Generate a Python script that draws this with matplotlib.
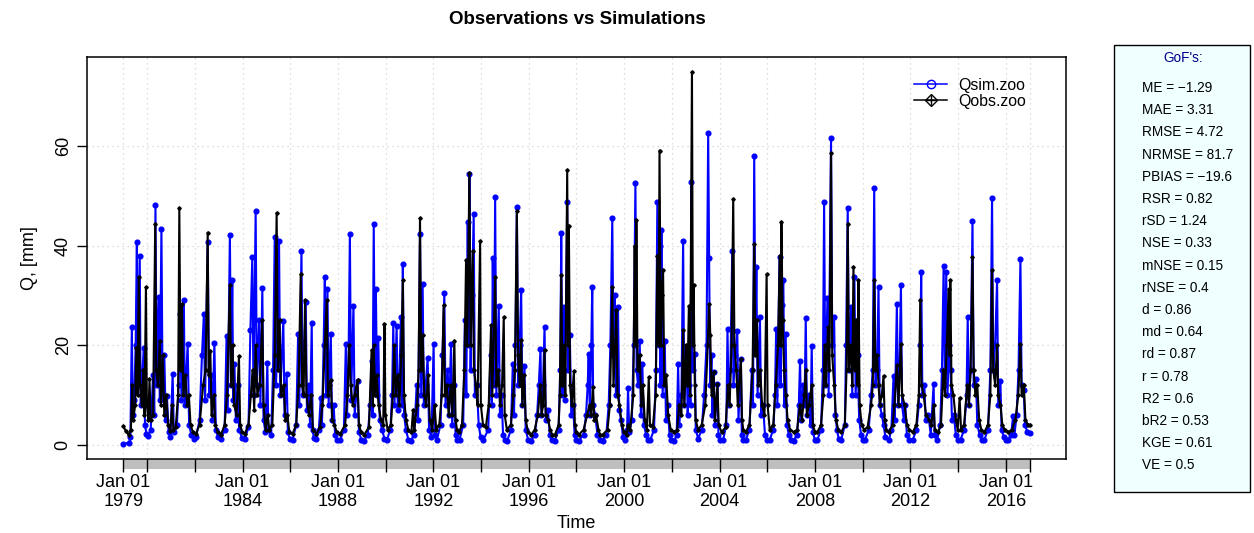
import matplotlib
matplotlib.use("Agg")
import matplotlib.pyplot as plt
from matplotlib.lines import Line2D
from matplotlib.legend_handler import HandlerTuple
from matplotlib.patches import Rectangle

plt.rcParams['font.family'] = ['Liberation Sans', 'DejaVu Sans']

# simulated discharge: (decimal year, Q [mm])
qsim = [
    (1979.00, 0.1), (1979.25, 0.4), (1979.30, 1.5), (1979.36, 23.6), (1979.40, 6), (1979.46, 9),
    (1979.52, 20), (1979.57, 40.7), (1979.61, 12), (1979.69, 38), (1979.73, 8), (1979.80, 14),
    (1979.86, 19.5), (1979.91, 4), (1979.97, 2.2),
    (1980.05, 1.8), (1980.15, 3), (1980.25, 14), (1980.30, 6), (1980.35, 48.1), (1980.40, 12),
    (1980.48, 29.6), (1980.53, 9), (1980.60, 43.4), (1980.65, 10), (1980.72, 18), (1980.78, 5),
    (1980.83, 9.8), (1980.90, 2.5), (1980.98, 1.6),
    (1981.07, 14.1), (1981.12, 2.5), (1981.25, 4), (1981.32, 12), (1981.39, 26.3), (1981.44, 9),
    (1981.54, 29), (1981.58, 8), (1981.70, 20.2), (1981.76, 4), (1981.85, 2), (1981.95, 1.2),
    (1982.05, 1.5), (1982.20, 5), (1982.30, 18), (1982.38, 26.3), (1982.43, 9), (1982.54, 40.7),
    (1982.60, 10), (1982.68, 14), (1982.74, 5), (1982.82, 20.5), (1982.88, 3), (1982.97, 1.6),
    (1983.10, 1.2), (1983.25, 3), (1983.33, 21.9), (1983.38, 7), (1983.47, 42.2), (1983.52, 12),
    (1983.57, 33), (1983.61, 9), (1983.66, 16.2), (1983.72, 5), (1983.80, 12), (1983.86, 3),
    (1983.97, 1.4),
    (1984.10, 1.2), (1984.25, 3.5), (1984.33, 23), (1984.41, 37.7), (1984.46, 10), (1984.55, 46.9),
    (1984.60, 12), (1984.70, 25), (1984.75, 8), (1984.83, 31.5), (1984.88, 5), (1984.96, 2.5),
    (1985.04, 16.5), (1985.08, 3), (1985.20, 2), (1985.28, 15), (1985.35, 41.8), (1985.40, 12),
    (1985.47, 20), (1985.53, 41), (1985.58, 10), (1985.71, 24.9), (1985.76, 6), (1985.85, 14.1),
    (1985.90, 2.5), (1985.98, 1.2),
    (1986.10, 1), (1986.25, 4), (1986.33, 22.2), (1986.38, 8), (1986.47, 38.9), (1986.52, 10),
    (1986.65, 28.6), (1986.70, 7), (1986.78, 12), (1986.83, 4), (1986.90, 24.4), (1986.94, 3),
    (1986.99, 1.3),
    (1987.10, 1.2), (1987.20, 3), (1987.28, 9.4), (1987.33, 4), (1987.40, 20), (1987.45, 33.7),
    (1987.50, 10), (1987.56, 31.3), (1987.61, 8), (1987.70, 22.2), (1987.75, 5), (1987.82, 8),
    (1987.88, 2), (1987.98, 1),
    (1988.10, 1), (1988.25, 3), (1988.33, 20.2), (1988.38, 6), (1988.44, 15), (1988.50, 42.4),
    (1988.55, 9), (1988.65, 27.9), (1988.70, 6), (1988.82, 12.8), (1988.88, 2.5), (1988.98, 1),
    (1989.10, 0.8), (1989.25, 2), (1989.35, 8), (1989.41, 16.8), (1989.45, 6), (1989.50, 44.3),
    (1989.55, 12), (1989.59, 31.3), (1989.64, 10), (1989.69, 21.5), (1989.75, 5), (1989.85, 3),
    (1989.95, 1.2),
    (1990.05, 1), (1990.20, 3), (1990.27, 10), (1990.32, 24.4), (1990.37, 8), (1990.46, 23.9),
    (1990.51, 7), (1990.58, 14), (1990.64, 25.6), (1990.68, 8), (1990.72, 36.2), (1990.77, 6),
    (1990.85, 3), (1990.95, 1),
    (1991.05, 0.8), (1991.20, 2), (1991.30, 12), (1991.36, 5), (1991.44, 42.4), (1991.49, 10),
    (1991.55, 32.3), (1991.60, 8), (1991.68, 12), (1991.76, 17.5), (1991.82, 3), (1991.92, 1.5),
    (1992.01, 20.2), (1992.05, 2),
    (1992.15, 1), (1992.30, 4), (1992.38, 18), (1992.46, 30.4), (1992.51, 8), (1992.60, 15),
    (1992.66, 6), (1992.74, 20.2), (1992.79, 4), (1992.88, 12), (1992.93, 2), (1992.99, 1),
    (1993.10, 1), (1993.25, 4), (1993.32, 25), (1993.38, 10), (1993.44, 44.8), (1993.48, 20),
    (1993.51, 54.4), (1993.56, 15), (1993.62, 30), (1993.69, 46.3), (1993.74, 10), (1993.82, 12),
    (1993.90, 4), (1993.98, 1.5),
    (1994.10, 1), (1994.30, 3), (1994.40, 18), (1994.45, 8), (1994.49, 37.4), (1994.54, 12),
    (1994.59, 49.7), (1994.64, 10), (1994.74, 27.9), (1994.79, 6), (1994.86, 10), (1994.92, 2),
    (1994.99, 1),
    (1995.10, 0.8), (1995.25, 3), (1995.33, 16.2), (1995.38, 6), (1995.44, 20), (1995.50, 47.7),
    (1995.55, 12), (1995.62, 20), (1995.68, 31), (1995.73, 8), (1995.82, 15.8), (1995.87, 3),
    (1995.97, 1),
    (1996.10, 0.8), (1996.25, 2), (1996.35, 6), (1996.42, 12), (1996.49, 19.2), (1996.53, 6),
    (1996.60, 12), (1996.66, 23.7), (1996.71, 5), (1996.80, 7), (1996.88, 2), (1996.98, 1),
    (1997.10, 0.8), (1997.25, 3), (1997.32, 15), (1997.36, 42.6), (1997.41, 10), (1997.47, 27.6),
    (1997.52, 9), (1997.61, 48.8), (1997.65, 15), (1997.72, 22), (1997.78, 6), (1997.86, 8),
    (1997.92, 2), (1997.99, 1),
    (1998.10, 0.8), (1998.30, 2), (1998.40, 6), (1998.47, 12), (1998.51, 18.2), (1998.56, 6),
    (1998.62, 20), (1998.66, 31.6), (1998.70, 8), (1998.78, 6), (1998.88, 2), (1998.98, 1),
    (1999.10, 0.8), (1999.25, 2), (1999.35, 8), (1999.42, 20), (1999.50, 45.5), (1999.55, 18),
    (1999.60, 30), (1999.65, 10), (1999.74, 27.6), (1999.79, 7), (1999.87, 5), (1999.95, 1.5),
    (2000.05, 1), (2000.12, 3), (2000.16, 11.4), (2000.21, 2.5), (2000.32, 5), (2000.40, 20),
    (2000.47, 52.5), (2000.52, 15), (2000.58, 12), (2000.65, 20.9), (2000.70, 6), (2000.76, 16.2),
    (2000.82, 4), (2000.92, 2), (2000.99, 1),
    (2001.10, 1), (2001.25, 3), (2001.33, 15), (2001.39, 48.8), (2001.44, 20), (2001.48, 40),
    (2001.52, 12), (2001.56, 43.1), (2001.61, 10), (2001.70, 20.9), (2001.75, 5), (2001.82, 8),
    (2001.90, 2), (2001.98, 1),
    (2002.10, 0.8), (2002.20, 2), (2002.26, 16.2), (2002.31, 4), (2002.40, 10), (2002.47, 40.9),
    (2002.52, 8), (2002.61, 19.2), (2002.66, 6), (2002.72, 12), (2002.78, 8), (2002.82, 52.7),
    (2002.87, 15), (2002.96, 18.2), (2003.00, 3),
    (2003.10, 1.2), (2003.25, 3), (2003.35, 10), (2003.45, 20), (2003.52, 62.6), (2003.56, 37.4),
    (2003.60, 12), (2003.66, 18), (2003.70, 6), (2003.75, 14.5), (2003.80, 4), (2003.91, 12.1),
    (2003.95, 2), (2004.02, 1),
    (2004.15, 1), (2004.28, 4), (2004.33, 23.2), (2004.38, 8), (2004.45, 15), (2004.53, 39),
    (2004.58, 12), (2004.66, 18), (2004.74, 22.9), (2004.79, 5), (2004.89, 17.2), (2004.93, 2),
    (2004.99, 1),
    (2005.10, 1), (2005.25, 3), (2005.35, 15), (2005.40, 8), (2005.45, 57.9), (2005.50, 20),
    (2005.54, 35.7), (2005.59, 10), (2005.69, 25.6), (2005.74, 6), (2005.82, 8), (2005.90, 2),
    (2005.98, 1),
    (2006.10, 1), (2006.25, 3), (2006.32, 10), (2006.37, 23.2), (2006.42, 8), (2006.51, 37.8),
    (2006.55, 12), (2006.60, 28), (2006.67, 33), (2006.72, 8), (2006.77, 22.2), (2006.82, 4),
    (2006.90, 2), (2006.99, 1),
    (2007.10, 0.8), (2007.25, 2), (2007.32, 8), (2007.37, 16.8), (2007.42, 5), (2007.50, 12),
    (2007.56, 8), (2007.61, 25.4), (2007.66, 6), (2007.75, 10), (2007.81, 4), (2007.86, 19.9),
    (2007.91, 2.5), (2007.99, 1),
    (2008.10, 1), (2008.25, 3), (2008.33, 15), (2008.38, 48.8), (2008.43, 12), (2008.52, 29.4),
    (2008.57, 10), (2008.67, 61.6), (2008.72, 20), (2008.80, 25.6), (2008.85, 6), (2008.92, 3),
    (2008.99, 1.2),
    (2009.10, 1), (2009.25, 4), (2009.30, 20), (2009.37, 47.6), (2009.42, 15), (2009.51, 27.6),
    (2009.56, 10), (2009.65, 33.7), (2009.70, 10), (2009.78, 18), (2009.85, 5), (2009.93, 2),
    (2009.99, 1),
    (2010.10, 1), (2010.25, 3), (2010.35, 10), (2010.42, 15), (2010.48, 51.5), (2010.53, 12),
    (2010.60, 15), (2010.66, 31.6), (2010.71, 8), (2010.80, 6), (2010.87, 4), (2010.95, 1.5),
    (2011.10, 1), (2011.20, 3), (2011.29, 13.8), (2011.34, 5), (2011.43, 28.3), (2011.48, 8),
    (2011.54, 15), (2011.60, 32), (2011.65, 8), (2011.72, 5), (2011.78, 8), (2011.85, 2),
    (2011.95, 1),
    (2012.10, 1), (2012.25, 3), (2012.35, 8), (2012.41, 20), (2012.45, 34.7), (2012.50, 10),
    (2012.58, 12), (2012.64, 5), (2012.75, 6), (2012.85, 2), (2012.97, 12.1), (2013.01, 2),
    (2013.12, 1), (2013.25, 4), (2013.32, 15), (2013.39, 35.8), (2013.44, 12), (2013.50, 34.7),
    (2013.55, 10), (2013.62, 20), (2013.68, 15), (2013.74, 5), (2013.82, 6), (2013.90, 2),
    (2013.99, 1),
    (2014.10, 1), (2014.25, 3), (2014.35, 10), (2014.40, 25.6), (2014.45, 8), (2014.52, 15),
    (2014.60, 45), (2014.65, 12), (2014.75, 13.1), (2014.80, 4), (2014.90, 2), (2014.99, 1),
    (2015.10, 1), (2015.25, 3), (2015.35, 15), (2015.42, 49.5), (2015.47, 15), (2015.55, 20),
    (2015.63, 33), (2015.68, 8), (2015.77, 12.8), (2015.82, 3), (2015.92, 1.5), (2015.99, 1),
    (2016.10, 1), (2016.22, 2), (2016.30, 5.7), (2016.36, 2), (2016.45, 6), (2016.53, 15),
    (2016.61, 37.2), (2016.66, 12), (2016.75, 11), (2016.80, 4), (2016.90, 2.5), (2016.99, 2.4),
]

# observed discharge: (decimal year, Q [mm])
qobs = [
    (1979.00, 3.7), (1979.10, 2.8), (1979.22, 2.0), (1979.32, 3), (1979.38, 12), (1979.42, 5),
    (1979.50, 8), (1979.55, 19.5), (1979.60, 10), (1979.65, 33.7), (1979.70, 12), (1979.78, 8),
    (1979.84, 15), (1979.89, 6), (1979.95, 31.6), (1979.99, 8),
    (1980.05, 5), (1980.10, 13.1), (1980.15, 5), (1980.25, 6), (1980.34, 44.4), (1980.38, 15),
    (1980.45, 12), (1980.53, 20.9), (1980.58, 8), (1980.65, 18), (1980.72, 6), (1980.80, 10),
    (1980.88, 4), (1980.97, 2.8),
    (1981.05, 8), (1981.10, 3), (1981.20, 3.5), (1981.30, 10), (1981.35, 47.5), (1981.40, 15),
    (1981.46, 28.3), (1981.52, 10), (1981.60, 14), (1981.68, 8), (1981.75, 10), (1981.82, 4),
    (1981.92, 2.5),
    (1982.05, 2.2), (1982.20, 4), (1982.35, 12), (1982.45, 15), (1982.54, 42.6), (1982.58, 14),
    (1982.65, 18.9), (1982.70, 6), (1982.80, 10), (1982.86, 4), (1982.96, 2.5),
    (1983.10, 2), (1983.25, 4), (1983.35, 10), (1983.47, 32), (1983.52, 12), (1983.58, 20),
    (1983.65, 8), (1983.75, 6), (1983.85, 17.8), (1983.90, 4), (1983.98, 2.5),
    (1984.10, 2.2), (1984.25, 4), (1984.35, 10), (1984.42, 15), (1984.49, 7), (1984.55, 20),
    (1984.62, 10), (1984.72, 12), (1984.83, 25), (1984.88, 8), (1984.97, 3),
    (1985.05, 6), (1985.12, 3), (1985.25, 4), (1985.35, 18), (1985.43, 46.6), (1985.48, 15),
    (1985.55, 25), (1985.62, 10), (1985.72, 12), (1985.80, 5), (1985.88, 6), (1985.96, 2.5),
    (1986.10, 2.2), (1986.25, 4), (1986.35, 12), (1986.44, 34.3), (1986.50, 12), (1986.56, 10),
    (1986.62, 29), (1986.68, 10), (1986.78, 6), (1986.88, 10), (1986.95, 3),
    (1987.10, 2.2), (1987.25, 3.5), (1987.35, 8), (1987.45, 20), (1987.53, 29), (1987.58, 10),
    (1987.65, 12), (1987.70, 13), (1987.76, 5), (1987.85, 4), (1987.95, 2.5),
    (1988.10, 2.2), (1988.30, 4), (1988.40, 10), (1988.47, 20), (1988.53, 12), (1988.62, 8),
    (1988.70, 10), (1988.82, 13), (1988.88, 4), (1988.97, 2.5),
    (1989.10, 2), (1989.30, 3.5), (1989.41, 19), (1989.46, 8), (1989.50, 20), (1989.56, 10),
    (1989.62, 14), (1989.70, 8), (1989.80, 5), (1989.90, 4), (1989.95, 24.2), (1989.99, 6),
    (1990.08, 3), (1990.22, 4), (1990.30, 10), (1990.36, 20), (1990.42, 10), (1990.50, 14),
    (1990.58, 8), (1990.65, 18), (1990.72, 33), (1990.77, 10), (1990.85, 5), (1990.95, 3),
    (1991.08, 2.5), (1991.15, 7), (1991.20, 3), (1991.32, 8), (1991.38, 15), (1991.44, 45.5),
    (1991.49, 15), (1991.55, 22), (1991.62, 10), (1991.70, 8), (1991.78, 14), (1991.85, 5),
    (1991.95, 3),
    (1992.05, 8), (1992.12, 3), (1992.25, 4), (1992.35, 10), (1992.43, 28), (1992.48, 10),
    (1992.56, 12), (1992.64, 6), (1992.72, 12), (1992.80, 6), (1992.88, 20.9), (1992.93, 5),
    (1992.99, 3),
    (1993.08, 2.5), (1993.20, 4), (1993.30, 15), (1993.37, 37), (1993.42, 20), (1993.51, 54.5),
    (1993.56, 20), (1993.65, 39), (1993.70, 15), (1993.78, 12), (1993.85, 8), (1993.96, 40.9),
    (1993.99, 8),
    (1994.08, 4), (1994.20, 3.5), (1994.32, 8), (1994.42, 24), (1994.47, 10), (1994.59, 33.7),
    (1994.64, 12), (1994.72, 15), (1994.80, 8), (1994.88, 12), (1994.95, 25.6), (1994.99, 6),
    (1995.08, 3), (1995.25, 4), (1995.35, 10), (1995.42, 15), (1995.50, 47), (1995.55, 18),
    (1995.62, 12), (1995.68, 21), (1995.73, 8), (1995.80, 14), (1995.87, 5), (1995.97, 2.5),
    (1996.10, 2), (1996.25, 3), (1996.38, 6), (1996.49, 12), (1996.54, 6), (1996.60, 8),
    (1996.66, 19), (1996.71, 6), (1996.80, 5), (1996.90, 3), (1996.98, 2),
    (1997.10, 2), (1997.25, 4), (1997.30, 10), (1997.36, 34), (1997.41, 12), (1997.47, 20),
    (1997.53, 10), (1997.61, 55.1), (1997.65, 20), (1997.68, 44), (1997.73, 12), (1997.80, 8),
    (1997.89, 14.8), (1997.93, 4), (1997.99, 2.5),
    (1998.10, 2), (1998.30, 3), (1998.45, 6), (1998.55, 8), (1998.62, 6), (1998.69, 11.5),
    (1998.74, 5), (1998.82, 6), (1998.92, 3), (1998.99, 2),
    (1999.10, 2), (1999.30, 3), (1999.40, 8), (1999.50, 31.6), (1999.55, 12), (1999.62, 20),
    (1999.67, 27), (1999.72, 10), (1999.80, 8), (1999.90, 4), (1999.99, 2.5),
    (2000.10, 2), (2000.16, 4), (2000.25, 3), (2000.38, 10), (2000.44, 40), (2000.48, 20),
    (2000.51, 45.1), (2000.56, 15), (2000.65, 18), (2000.72, 8), (2000.78, 12), (2000.86, 5),
    (2000.95, 3),
    (2001.03, 13.5), (2001.08, 4), (2001.20, 3.5), (2001.32, 10), (2001.39, 38), (2001.44, 20),
    (2001.48, 59.1), (2001.53, 20), (2001.58, 30), (2001.63, 35), (2001.68, 12), (2001.76, 14),
    (2001.84, 6), (2001.95, 3),
    (2002.08, 2.5), (2002.22, 3), (2002.30, 8), (2002.40, 6), (2002.47, 23), (2002.52, 8),
    (2002.60, 20), (2002.65, 12), (2002.71, 27.9), (2002.76, 10), (2002.84, 74.9), (2002.88, 20),
    (2002.91, 32), (2002.96, 12), (2002.99, 5),
    (2003.10, 3), (2003.25, 4), (2003.40, 8), (2003.50, 20), (2003.56, 28.3), (2003.61, 22),
    (2003.66, 10), (2003.75, 14.5), (2003.80, 5), (2003.91, 12.1), (2003.96, 4),
    (2004.08, 2.5), (2004.25, 3.5), (2004.35, 12), (2004.42, 8), (2004.50, 20), (2004.57, 49.3),
    (2004.62, 20), (2004.70, 15), (2004.76, 8), (2004.89, 17.2), (2004.94, 5), (2004.99, 3),
    (2005.10, 2.5), (2005.25, 4), (2005.38, 15), (2005.45, 40.4), (2005.50, 18), (2005.56, 25),
    (2005.62, 12), (2005.70, 15), (2005.78, 8), (2005.88, 6), (2005.97, 34.2), (2006.01, 8),
    (2006.10, 3), (2006.25, 4), (2006.35, 12), (2006.45, 20), (2006.52, 38), (2006.56, 20),
    (2006.59, 44.8), (2006.64, 25), (2006.70, 15), (2006.77, 10), (2006.85, 5), (2006.95, 3),
    (2007.10, 2.5), (2007.25, 3), (2007.37, 8), (2007.45, 5), (2007.55, 10), (2007.61, 15),
    (2007.66, 6), (2007.75, 8), (2007.86, 12), (2007.91, 4), (2007.99, 2.5),
    (2008.10, 2.5), (2008.25, 4), (2008.35, 10), (2008.40, 20), (2008.46, 12), (2008.54, 23.6),
    (2008.60, 15), (2008.67, 58.5), (2008.72, 18), (2008.80, 12), (2008.88, 5), (2008.97, 3),
    (2009.10, 2.5), (2009.25, 4), (2009.32, 15), (2009.37, 44.4), (2009.42, 15), (2009.50, 20),
    (2009.56, 12), (2009.61, 35.7), (2009.66, 15), (2009.72, 25), (2009.78, 12), (2009.82, 33),
    (2009.87, 8), (2009.95, 4),
    (2010.05, 3), (2010.20, 3.5), (2010.35, 8), (2010.42, 12), (2010.48, 33), (2010.53, 15),
    (2010.60, 18), (2010.66, 12), (2010.72, 8), (2010.80, 10), (2010.87, 13.8), (2010.92, 5),
    (2010.99, 3),
    (2011.10, 2.5), (2011.25, 4), (2011.33, 8), (2011.43, 16), (2011.50, 8), (2011.60, 20.2),
    (2011.65, 10), (2011.75, 8), (2011.85, 4), (2011.95, 3),
    (2012.10, 2.5), (2012.25, 4), (2012.35, 10), (2012.41, 29), (2012.46, 12), (2012.55, 10),
    (2012.65, 6), (2012.78, 5), (2012.88, 4), (2012.97, 8), (2013.02, 3),
    (2013.15, 2.5), (2013.28, 4), (2013.38, 15), (2013.45, 10), (2013.52, 20), (2013.60, 31.3),
    (2013.64, 18), (2013.67, 33), (2013.72, 12), (2013.80, 10), (2013.90, 5), (2013.98, 3),
    (2014.06, 9.4), (2014.12, 3), (2014.25, 4), (2014.38, 12), (2014.45, 8), (2014.52, 15),
    (2014.60, 37.7), (2014.65, 15), (2014.72, 10), (2014.80, 12), (2014.88, 5), (2014.97, 3),
    (2015.10, 2.5), (2015.25, 4), (2015.35, 10), (2015.42, 35), (2015.47, 15), (2015.55, 12),
    (2015.63, 20), (2015.68, 10), (2015.77, 8), (2015.85, 4), (2015.95, 3),
    (2016.10, 2.5), (2016.25, 3), (2016.40, 5), (2016.52, 10), (2016.61, 20.2), (2016.66, 10),
    (2016.75, 12), (2016.82, 5), (2016.92, 4), (2016.99, 4),
]

# time axis: labelled years and all tick years (1979, then every 2nd year, then the end)
label_years = [1979, 1984, 1988, 1992, 1996, 2000, 2004, 2008, 2012, 2016]
tick_years = [1979] + list(range(1980, 2017, 2)) + [2017]
y_ticks = [0, 20, 40, 60]

gof_names = ["ME", "MAE", "RMSE", "NRMSE", "PBIAS", "RSR", "rSD", "NSE", "mNSE",
             "rNSE", "d", "md", "rd", "r", "R2", "bR2", "KGE", "VE"]
gof_values = ["\u22121.29", "3.31", "4.72", "81.7", "\u221219.6", "0.82", "1.24", "0.33", "0.15",
              "0.4", "0.86", "0.64", "0.87", "0.78", "0.6", "0.53", "0.61", "0.5"]

W, H = 1254, 533
fig = plt.figure(figsize=(W / 100, H / 100), dpi=100)
L, R, T, B = 87, 1066, 57, 459
ax = fig.add_axes([L / W, 1 - B / H, (R - L) / W, (B - T) / H])

sim_t = [p[0] for p in qsim]
sim_q = [p[1] for p in qsim]
obs_t = [p[0] for p in qobs]
obs_q = [p[1] for p in qobs]

# R-style 4% padding
t0, t1 = min(sim_t + obs_t), 2017.0
q0, q1 = min(sim_q + obs_q), max(sim_q + obs_q)
ax.set_xlim(t0 - 0.04 * (t1 - t0), t1 + 0.04 * (t1 - t0))
ax.set_ylim(q0 - 0.04 * (q1 - q0), q1 + 0.04 * (q1 - q0))

# grid
for yv in y_ticks:
    ax.axhline(yv, color="#d3d3d3", lw=0.9, ls=(0, (1, 3)), zorder=0)
for xv in tick_years:
    ax.axvline(xv, color="#d3d3d3", lw=0.9, ls=(0, (1, 3)), zorder=0)

ax.plot(sim_t, sim_q, color="blue", lw=1.5, marker="o", ms=3.4, mfc="blue", mec="blue", zorder=2)
ax.plot(obs_t, obs_q, color="black", lw=1.5, marker="D", ms=1.8, zorder=3)

# x axis with grey band under the time span
band = Rectangle((tick_years[0], -0.025), tick_years[-1] - tick_years[0], 0.025,
                 transform=ax.get_xaxis_transform(), facecolor="#bebebe", edgecolor="none",
                 clip_on=False, zorder=1)
ax.add_patch(band)
ax.set_xticks(tick_years)
ax.set_xticklabels([f"Jan 01\n{y}" if y in label_years else "" for y in tick_years])
ax.tick_params(axis="x", length=9.5, width=1, direction="out", labelsize=13, pad=1)

ax.set_yticks(y_ticks)
ax.tick_params(axis="y", length=7, width=1, direction="out", labelsize=13, pad=4)
for lab in ax.get_yticklabels():
    lab.set_rotation(90)
    lab.set_va("center")

for sp in ax.spines.values():
    sp.set_linewidth(1.1)

ax.set_xlabel("Time", fontsize=13)
ax.xaxis.set_label_coords(0.5, -(523 - B) / (B - T))
ax.xaxis.label.set_va("center")
ax.set_ylabel("Q, [mm]", fontsize=13)
ax.yaxis.set_label_coords((30 - L) / (R - L), 0.5)
ax.yaxis.label.set_va("center")

fig.text(577 / W, 1 - 20 / H, "Observations vs Simulations", ha="center", va="center",
         fontsize=13.5, fontweight="bold")

# legend: open circle for the simulation, diamond with plus for the observations
h_sim = Line2D([], [], color="blue", lw=1.1, marker="o", ms=6, mfc="none", mec="blue")
h_obs_line = Line2D([], [], color="black", lw=1.1, marker="D", ms=6, mfc="none", mec="black")
h_obs_plus = Line2D([], [], color="black", lw=0, marker="+", ms=7, mec="black")
ax.legend([h_sim, (h_obs_line, h_obs_plus)], ["Qsim.zoo", "Qobs.zoo"],
          handler_map={tuple: HandlerTuple(ndivide=1, pad=0)},
          loc="upper left", bbox_to_anchor=((914 - L) / (R - L), 1 - (78 - T) / (B - T)),
          frameon=False, fontsize=11.4, handlelength=2.1, handletextpad=0.7,
          labelspacing=0.05, borderpad=0, borderaxespad=0)

# goodness-of-fit box
fig.add_artist(Rectangle((1114 / W, 1 - 492 / H), (1250 - 1114) / W, (492 - 45) / H,
                         transform=fig.transFigure, facecolor="#f0ffff", edgecolor="black",
                         lw=1.0))
fig.text(1183 / W, 1 - 58 / H, "GoF's:", ha="center", va="center", fontsize=9.8,
         color="#00008b")
for i, (n, v) in enumerate(zip(gof_names, gof_values)):
    fig.text(1142 / W, 1 - (88 + i * 22.2) / H, f"{n} = {v}", ha="left", va="center",
             fontsize=9.8)

fig.savefig("out.png", dpi=100)
